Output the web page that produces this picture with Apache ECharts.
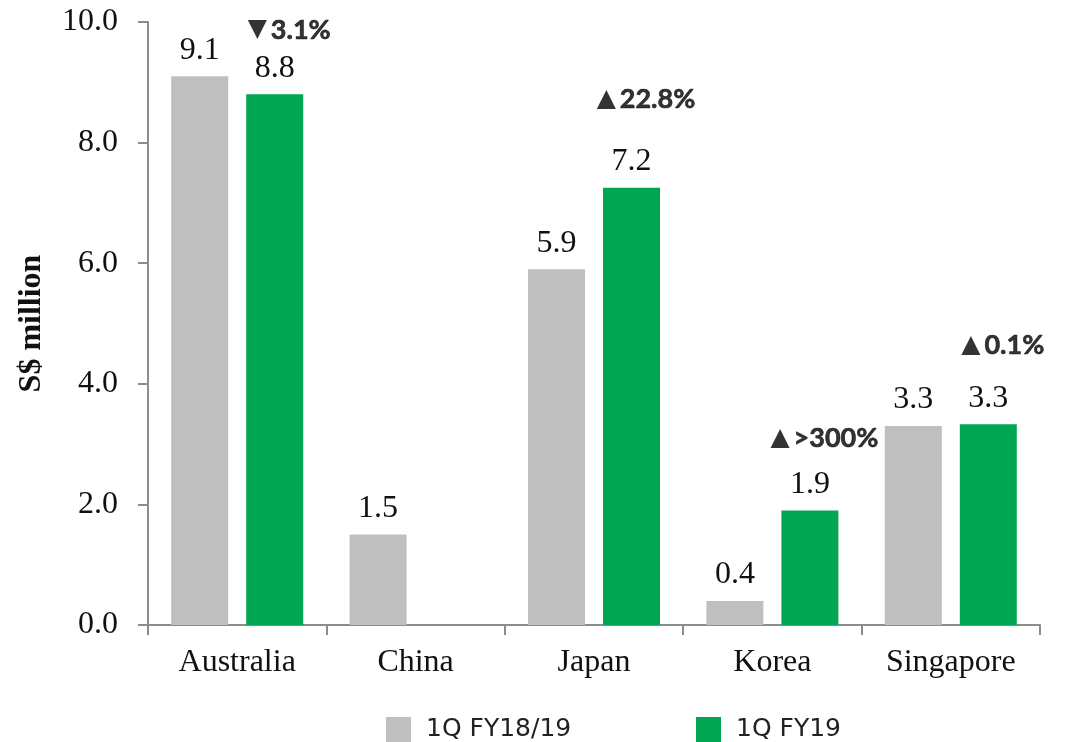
<!DOCTYPE html>
<html><head><meta charset="utf-8">
<script src="https://cdn.jsdelivr.net/npm/echarts@6/dist/echarts.min.js"></script>
<style>html,body{margin:0;padding:0;background:#fff}#c{width:1081px;height:742px}</style>
</head><body><div id="c"></div>
<script>
const categories = ['Australia', 'China', 'Japan', 'Korea', 'Singapore'];
const seriesNames = ['1Q FY18/19', '1Q FY19'];
const prevValues = [9.1, 1.5, 5.9, 0.4, 3.3];
const currValues = [8.8, null, 7.25, 1.9, 3.33];
const currLabels = ['8.8', '', '7.2', '1.9', '3.3'];
const changeArrows = ['▼', '', '▲', '▲', '▲'];
const changeTexts = ['3.1%', '', '22.8%', '>300%', '0.1%'];
const changeLevels = [9.87, null, 8.72, 3.10, 4.64];
const yTicks = [0, 2, 4, 6, 8, 10];

const serif = '"Liberation Serif", "Times New Roman", serif';
const chart = echarts.init(document.getElementById('c'));
chart.setOption({
  animation: false,
  grid: { left: 148, right: 41, top: 22, bottom: 117, containLabel: false },
  legend: [
    { data: [seriesNames[0]], left: 381, top: 712, itemWidth: 25, itemHeight: 25, icon: 'rect',
      textStyle: { fontFamily: '"DejaVu Sans", sans-serif', fontSize: 25, color: '#222', padding: [0, 0, 0, 10] } },
    { data: [seriesNames[1]], left: 691, top: 712, itemWidth: 25, itemHeight: 25, icon: 'rect',
      textStyle: { fontFamily: '"DejaVu Sans", sans-serif', fontSize: 25, color: '#222', padding: [0, 0, 0, 10] } }
  ],
  xAxis: {
    type: 'category', data: categories,
    axisLine: { lineStyle: { color: '#8c8c8c', width: 2 } },
    axisTick: { show: true, length: 10, lineStyle: { color: '#8c8c8c', width: 2 } },
    axisLabel: { fontFamily: serif, fontSize: 32, color: '#111', margin: 22 }
  },
  yAxis: {
    type: 'value', min: yTicks[0], max: yTicks[yTicks.length - 1], interval: 2,
    name: 'S$ million', nameLocation: 'middle', nameGap: 100, nameRotate: 90,
    nameTextStyle: { fontFamily: serif, fontSize: 32, fontWeight: 'bold', color: '#111' },
    axisLine: { show: true, lineStyle: { color: '#8c8c8c', width: 2 } },
    axisTick: { show: true, length: 10, lineStyle: { color: '#8c8c8c', width: 2 } },
    splitLine: { show: false },
    axisLabel: { fontFamily: serif, fontSize: 32, color: '#111', margin: 30,
      formatter: v => v.toFixed(1) }
  },
  series: [
    { name: seriesNames[0], type: 'bar', data: prevValues, barWidth: 57, barGap: '31.6%',
      itemStyle: { color: '#bfbfbf' },
      label: { show: true, position: 'top', distance: 10, fontFamily: serif, fontSize: 32, color: '#111',
        formatter: p => p.value.toFixed(1) } },
    { name: seriesNames[1], type: 'bar', data: currValues, barWidth: 57,
      itemStyle: { color: '#00a651' },
      label: { show: true, position: 'top', distance: 10, fontFamily: serif, fontSize: 32, color: '#111',
        formatter: p => currLabels[p.dataIndex] } },
    { name: 'change', type: 'scatter', symbolSize: 0, silent: true,
      data: categories.map((c, i) => changeLevels[i] == null ? null : [c, changeLevels[i]]),
      label: { show: true, position: 'inside', offset: [52, 0],
        formatter: p => '{a|' + changeArrows[p.dataIndex] + '}{s| }{t|' + changeTexts[p.dataIndex] + '}',
        rich: {
          a: { fontFamily: '"DejaVu Sans", sans-serif', fontSize: 25, color: '#000', verticalAlign: 'middle' },
          s: { fontSize: 14 },
          t: { fontFamily: 'Lato, "DejaVu Sans", sans-serif', fontSize: 27, fontWeight: 'bold', color: '#000',
            textBorderColor: '#000', textBorderWidth: 0.6 }
        } } }
  ]
});
</script></body></html>
